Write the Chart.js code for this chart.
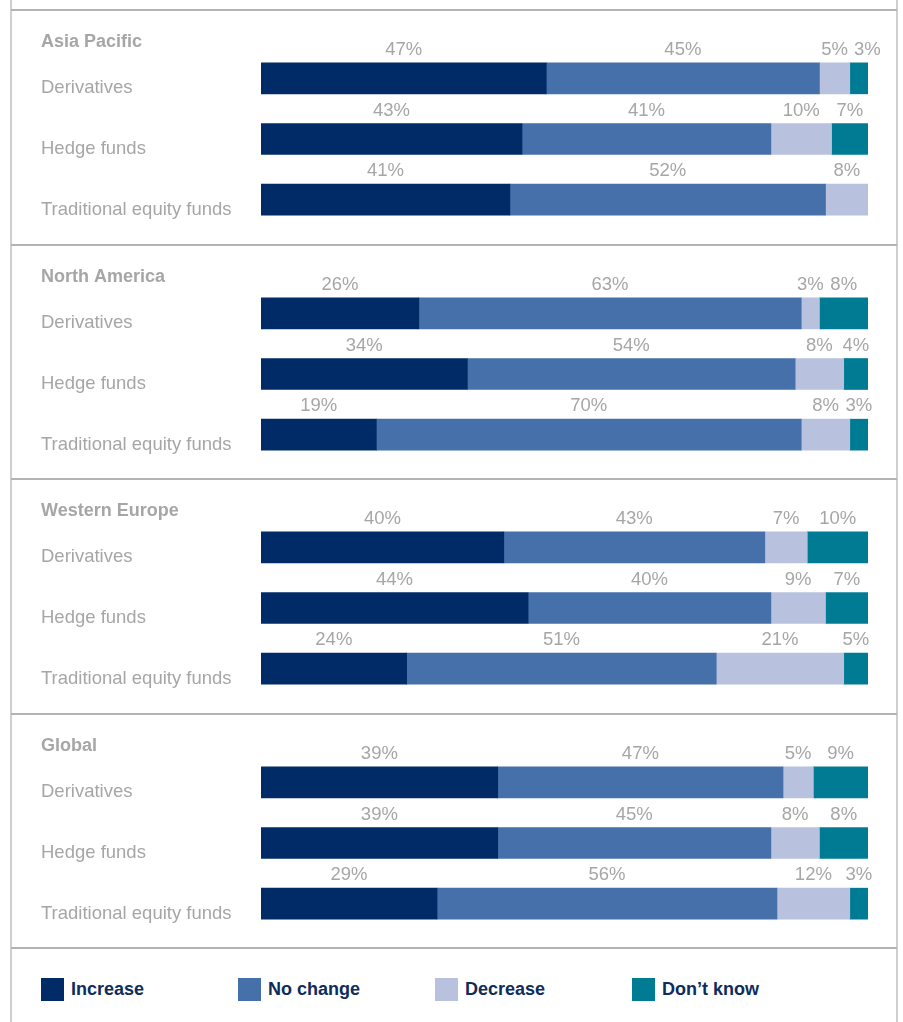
<!DOCTYPE html>
<html>
<head>
<meta charset="utf-8">
<script src="https://cdn.jsdelivr.net/npm/chart.js@4.4.1/dist/chart.umd.min.js"></script>
<style>
  html, body { margin: 0; padding: 0; background: #fff; }
  body { width: 903px; height: 1022px; position: relative; overflow: hidden; font-family: "Liberation Sans", Arial, sans-serif; }
  .vline { position: absolute; top: 0; width: 2px; height: 1022px; background: #cfcfcf; }
  .hline { position: absolute; left: 11px; width: 886px; height: 2px; background: #b3b3b3; }
  .panel { position: absolute; left: 11px; width: 886px; height: 234px; }
  .legend-item { position: absolute; top: 978px; height: 23px; display: flex; align-items: center; }
  .legend-item .sw { width: 23px; height: 23px; margin-right: 7px; }
  .legend-item span { font-weight: bold; font-size: 18px; color: #0e2c5c; }
</style>
</head>
<body>
<div class="vline" style="left:10px"></div>
<div class="vline" style="left:896px"></div>
<div id="panels"></div>
<div id="legend"></div>

<script>
// regions, row labels and series
const regions = ['Asia Pacific', 'North America', 'Western Europe', 'Global'];
const categories = ['Derivatives', 'Hedge funds', 'Traditional equity funds'];
const seriesNames = ['Increase', 'No change', 'Decrease', 'Don\u2019t know'];
const seriesColors = ['#002b67', '#4670aa', '#b8c2de', '#007b94'];

// values per region (rows follow categories)
const increase = [[47, 43, 41], [26, 34, 19], [40, 44, 24], [39, 39, 29]];
const noChange = [[45, 41, 52], [63, 54, 70], [43, 40, 51], [47, 45, 56]];
const decrease = [[5, 10, 8], [3, 8, 8], [7, 9, 21], [5, 8, 12]];
const dontKnow = [[3, 7, 0], [8, 4, 3], [10, 7, 5], [9, 8, 3]];
const seriesValues = [increase, noChange, decrease, dontKnow];

// separator line positions (top of each panel, then the legend rule)
const lineTops = [10, 245, 479, 714, 948];

const fontFamily = '"Liberation Sans", Arial, sans-serif';
const grey = '#a6a6a6';

// percentage labels above each segment + the region heading
const segmentLabels = {
    id: 'segmentLabels',
    afterDatasetsDraw(chart, args, opts) {
        const { ctx, chartArea } = chart;
        ctx.save();
        ctx.font = '18.5px ' + fontFamily;
        ctx.fillStyle = grey;
        ctx.textAlign = 'center';
        ctx.textBaseline = 'middle';
        chart.data.labels.forEach((_, row) => {
            let prevRight = -Infinity;
            chart.data.datasets.forEach((ds, i) => {
                const v = ds.data[row];
                if (!v) return;
                const bar = chart.getDatasetMeta(i).data[row];
                const x0 = Math.max(bar.base, chartArea.left);
                const x1 = Math.min(bar.x, chartArea.right);
                const text = v + '%';
                const w = ctx.measureText(text).width;
                let cx = (x0 + x1) / 2;
                if (cx - w / 2 < prevRight + 6) cx = prevRight + 6 + w / 2;
                prevRight = cx + w / 2;
                ctx.fillText(text, cx, bar.y - bar.height / 2 - 13);
            });
        });
        ctx.font = 'bold 18px ' + fontFamily;
        ctx.textAlign = 'left';
        ctx.fillText(opts.title, 30, chartArea.top - 6);
        ctx.restore();
    }
};

function buildPanel(r) {
    const wrap = document.createElement('div');
    wrap.className = 'panel';
    wrap.style.top = lineTops[r] + 'px';
    const canvas = document.createElement('canvas');
    wrap.appendChild(canvas);
    document.getElementById('panels').appendChild(wrap);

    new Chart(canvas, {
        type: 'bar',
        data: {
            labels: categories,
            datasets: seriesNames.map((name, i) => ({
                label: name,
                data: seriesValues[i][r],
                backgroundColor: seriesColors[i],
                borderWidth: 0,
                barThickness: 31
            }))
        },
        options: {
            indexAxis: 'y',
            responsive: true,
            maintainAspectRatio: false,
            animation: false,
            layout: { padding: { top: 38, bottom: 14, left: 30, right: 29 } },
            scales: {
                x: { stacked: true, min: 0, max: 100, display: false },
                y: {
                    stacked: true,
                    grid: { display: false },
                    border: { display: false },
                    ticks: {
                        crossAlign: 'far',
                        padding: 0,
                        labelOffset: 10,
                        color: grey,
                        font: { family: fontFamily, size: 18.5 }
                    },
                    afterFit(scale) { scale.width = 220; }
                }
            },
            plugins: {
                legend: { display: false },
                tooltip: { enabled: false },
                segmentLabels: { title: regions[r] }
            }
        },
        plugins: [segmentLabels]
    });
}

// horizontal rules
lineTops.forEach(y => {
    const d = document.createElement('div');
    d.className = 'hline';
    d.style.top = (y - 1) + 'px';
    document.body.appendChild(d);
});

regions.forEach((_, r) => buildPanel(r));

// legend row
const legend = document.getElementById('legend');
seriesNames.forEach((name, i) => {
    const item = document.createElement('div');
    item.className = 'legend-item';
    item.style.left = (41 + i * 197) + 'px';
    item.innerHTML = `<div class="sw" style="background:${seriesColors[i]}"></div><span>${name}</span>`;
    legend.appendChild(item);
});
</script>
</body>
</html>
